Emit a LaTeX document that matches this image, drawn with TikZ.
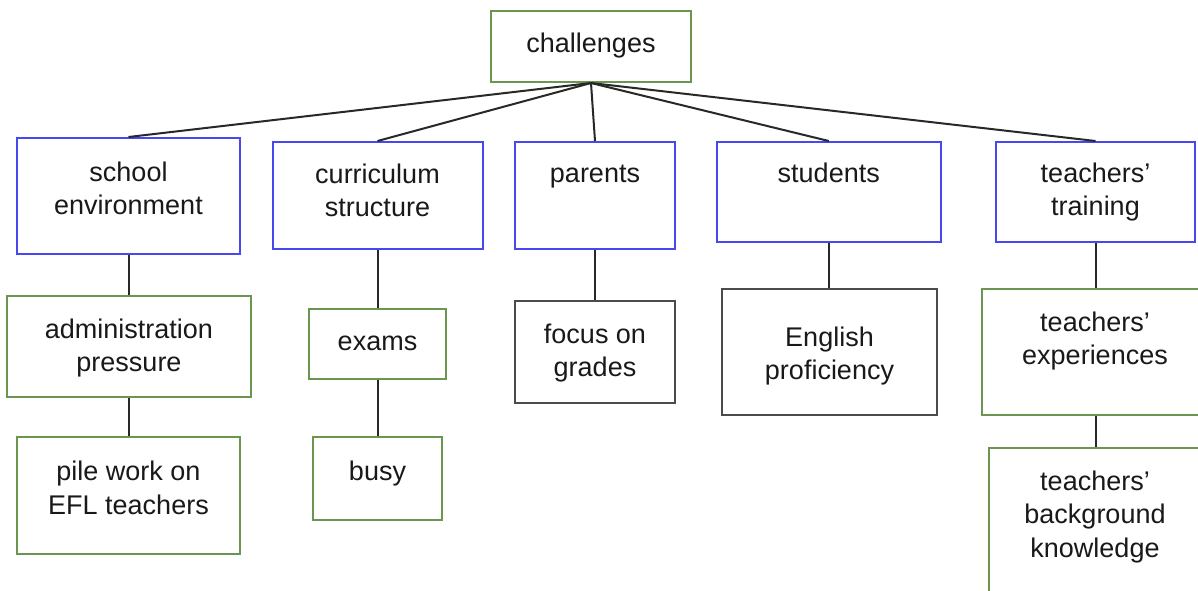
\documentclass[tikz,border=0pt]{standalone}
\usepackage{fontspec}
\setmainfont{Liberation Sans}
\definecolor{bblue}{RGB}{72,72,240}
\definecolor{bgreen}{RGB}{106,150,80}
\definecolor{bgray}{RGB}{75,75,75}
\definecolor{lgray}{RGB}{40,40,40}
\tikzset{
  box/.style={draw, line width=2pt, inner sep=0pt},
  bluebox/.style={box, draw=bblue},
  greenbox/.style={box, draw=bgreen},
  graybox/.style={box, draw=bgray},
  lbl/.style={anchor=north, inner sep=0pt, align=center,
    font=\fontsize{27}{33.5}\selectfont, text=black!90},
  conn/.style={draw=lgray, line width=2pt},
}
% [baseline offset] name style left top right bottom text
\newcommand\mybox[8][43.5]{%
  \node[#3, minimum width={(#6-#4)*1pt}, minimum height={(#7-#5)*1pt}]
    (#2) at ({(#4+#6)/2},{(#5+#7)/2}) {};
  \node[lbl] (#2t) at ([yshift={-(#1-24)*1pt}]#2.north) {\rule{0pt}{24pt}#8};
}
\begin{document}
\begin{tikzpicture}[x=1pt,y=-1pt]
\clip (0,0) rectangle (1198,590);
\fill[white] (0,0) rectangle (1198,590);
\mybox[42.5]{ch}{greenbox}{491}{11}{691}{82}{challenges}
\mybox[44]{se}{bluebox}{17}{138}{240}{254}{school\\environment}
\mybox[42]{cs}{bluebox}{272.5}{142}{482.5}{249}{curriculum\\structure}
\mybox[41]{pa}{bluebox}{515}{142}{675}{249}{parents}
\mybox[41]{st}{bluebox}{716.5}{142}{941}{242}{students}
\mybox[41]{tt}{bluebox}{996}{142}{1195}{242}{teachers’\\training}
\mybox[43]{ap}{greenbox}{7}{296}{251}{397}{administration\\pressure}
\mybox[44.5]{pw}{greenbox}{17}{437}{240}{554}{pile work on\\EFL teachers}
\mybox[42.7]{ex}{greenbox}{309}{309}{446}{379}{exams}
\mybox[44]{bu}{greenbox}{313}{437}{442}{520}{busy}
\mybox[43]{fg}{graybox}{515}{301}{675}{403}{focus on\\grades}
\mybox[58]{ep}{graybox}{722}{289}{937}{415}{English\\proficiency}
\mybox[43]{te}{greenbox}{982}{289}{1208}{415}{teachers’\\experiences}
\mybox[43]{tb}{greenbox}{989}{448}{1201}{600}{teachers’\\background\\knowledge}
% connectors
\draw[conn] (ch.south) -- (se.north);
\draw[conn] (ch.south) -- (cs.north);
\draw[conn] (ch.south) -- (pa.north);
\draw[conn] (ch.south) -- (st.north);
\draw[conn] (ch.south) -- (tt.north);
\draw[conn] (se.south) -- (se.south |- ap.north);
\draw[conn] (se.south |- ap.south) -- (se.south |- pw.north);
\draw[conn] (cs.south) -- (cs.south |- ex.north);
\draw[conn] (cs.south |- ex.south) -- (cs.south |- bu.north);
\draw[conn] (pa.south) -- (pa.south |- fg.north);
\draw[conn] (st.south) -- (st.south |- ep.north);
\draw[conn] (tt.south) -- (tt.south |- te.north);
\draw[conn] (tt.south |- te.south) -- (tt.south |- tb.north);
\end{tikzpicture}
\end{document}
